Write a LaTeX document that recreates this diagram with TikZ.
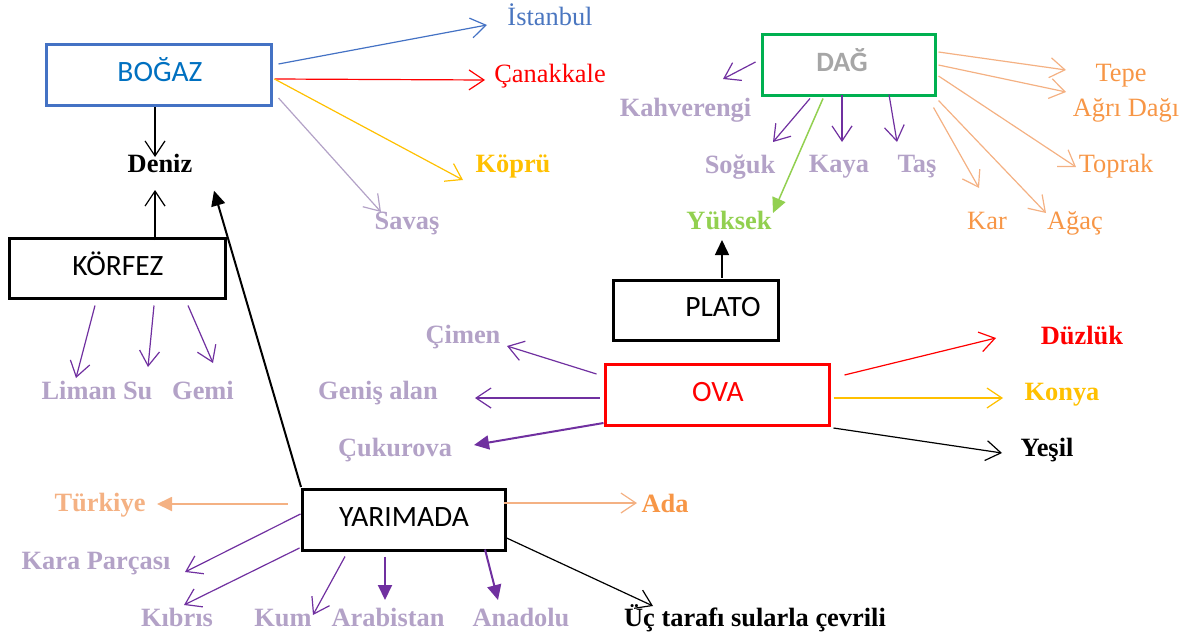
\documentclass[tikz,border=0pt]{standalone}
\usepackage{fontspec}
\setmainfont{Liberation Serif}
\newfontfamily\boxfont{Carlito}
\usetikzlibrary{arrows.meta,calc}
\definecolor{lav}{HTML}{B3A2C7}
\definecolor{purp}{HTML}{7030A0}
\definecolor{bbox}{HTML}{4472C4}
\definecolor{btext}{HTML}{0070C0}
\definecolor{ibl}{HTML}{4A76C0}
\definecolor{gold}{HTML}{FFC000}
\definecolor{gbox}{HTML}{00B050}
\definecolor{lgreen}{HTML}{92D050}
\definecolor{dgray}{HTML}{A6A6A6}
\definecolor{orng}{HTML}{F79646}
\definecolor{lorng}{HTML}{F4B183}
\begin{document}
\begin{tikzpicture}[x=1pt,y=-1pt,
  box/.style={draw=#1, line width=3pt, inner sep=0pt},
  boxlab/.style={font=\boxfont\fontsize{29.5}{33}\selectfont, anchor=base, inner sep=0pt},
  lbl/.style={font=\fontsize{26.4}{30}\selectfont\bfseries, anchor=base, inner sep=0pt},
  rlbl/.style={font=\fontsize{26.4}{30}\selectfont, anchor=base, inner sep=0pt},
  oarr/.style={-{Straight Barb[length=15pt,width=20pt]}, line width=1.2pt},
  farr/.style={-{Triangle[length=15pt,width=14pt]}, line width=2pt}]
\useasboundingbox (0,0) rectangle (1186,637);

% boxes
\node[box=bbox, minimum width=225pt, minimum height=61pt] (bogaz) at (159,75) {};
\node[boxlab, text=btext] (bogazT) at (160,81.7) {BOĞAZ};
\node[box=black, minimum width=216pt, minimum height=60pt] (korfez) at (117.5,268.5) {};
\node[boxlab] (korfezT) at (118,275) {KÖRFEZ};
\node[box=gbox, minimum width=173pt, minimum height=61pt] (dag) at (849,65) {};
\node[boxlab, text=dgray, font=\boxfont\bfseries\fontsize{28}{32}\selectfont] (dagT) at (842,71.7) {DAĞ};
\node[box=black, minimum width=165pt, minimum height=60pt] (plato) at (696,310.5) {};
\node[boxlab] (platoT) at (723,316.7) {PLATO};
\node[box=red, minimum width=224pt, minimum height=61pt] (ova) at (717.5,395) {};
\node[boxlab, text=red] (ovaT) at (718,401.7) {OVA};
\node[box=black, minimum width=203pt, minimum height=61pt] (yarimada) at (404,520) {};
\node[boxlab] (yarimadaT) at (404,526.7) {YARIMADA};

% labels
\node[lbl] (deniz) at (160,172.7) {Deniz};
\node[rlbl, text=ibl] (istanbul) at (550,25) {İstanbul};
\node[rlbl, text=red] (canakkale) at (550,82.3) {Çanakkale};
\node[lbl, text=gold] (kopru) at (513,172.7) {Köprü};
\node[lbl, text=lav] (savas) at (407,229) {Savaş};
\node[lbl, text=lav] (kahve) at (685.5,116.7) {Kahverengi};
\node[lbl, text=lav] (soguk) at (740,173) {Soğuk};
\node[lbl, text=lav] (kaya) at (839,172.7) {Kaya};
\node[lbl, text=lav] (tas) at (917,172.7) {Taş};
\node[lbl, text=lgreen] (yuksek) at (729,229) {Yüksek};
\node[rlbl, text=orng] (tepe) at (1121,81.7) {Tepe};
\node[rlbl, text=orng] (agri) at (1126,116.7) {Ağrı Dağı};
\node[rlbl, text=orng] (toprak) at (1116,172.7) {Toprak};
\node[rlbl, text=orng] (kar) at (987,229.3) {Kar};
\node[rlbl, text=orng] (agac) at (1075,229.3) {Ağaç};
\node[lbl, text=lav] (liman) at (97,399.3) {Liman Su};
\node[lbl, text=lav] (gemi) at (203,399.3) {Gemi};
\node[lbl, text=lav] (cimen) at (463,343.3) {Çimen};
\node[lbl, text=lav] (genis) at (378,399) {Geniş alan};
\node[lbl, text=lav] (cukurova) at (395,456.7) {Çukurova};
\node[lbl, text=red] (duzluk) at (1082,344) {Düzlük};
\node[lbl, text=gold] (konya) at (1062,400) {Konya};
\node[lbl] (yesil) at (1047,456.7) {Yeşil};
\node[lbl, text=lorng] (turkiye) at (100,511.7) {Türkiye};
\node[lbl, text=lav] (kara) at (96,569.3) {Kara Parçası};
\node[lbl, text=lav] (kibris) at (177,626.7) {Kıbrıs};
\node[lbl, text=lav] (kum) at (283,626.7) {Kum};
\node[lbl, text=lav] (arabistan) at (388,626.7) {Arabistan};
\node[lbl, text=orng] (ada) at (665,512.7) {Ada};
\node[lbl, text=lav] (anadolu) at (521,626.7) {Anadolu};
\node[lbl] (uc) at (755,626.7) {Üç tarafı sularla çevrili};

% BOĞAZ
\draw[oarr] ($(bogaz.south)+(-4,0)$) -- ($(deniz.base)+(-5,-15.7)$);
\draw[oarr, bbox] ($(bogaz.east)+(5.5,-11)$) -- ($(istanbul.base)+(-63,0)$);
\draw[oarr, red] ($(bogaz.east)+(1.5,4)$) -- ($(canakkale.base)+(-65,-2.3)$);
\draw[oarr, gold] ($(bogaz.east)+(1.5,4)$) -- ($(kopru.base)+(-50,7.3)$);
\draw[oarr, lav] ($(bogaz.east)+(5.5,23)$) -- ($(savas.base)+(-26,-17)$);

% KÖRFEZ
\draw[oarr] ($(korfez.north)+(37.5,3)$) -- ($(deniz.base)+(-5,17.3)$);
\draw[oarr, purp] ($(korfez.south)+(-22.5,5.5)$) -- ($(liman.base)+(-21,-21.3)$);
\draw[oarr, purp] ($(korfez.south)+(36.5,5.5)$) -- ($(liman.base)+(51,-32.3)$);
\draw[oarr, purp] ($(korfez.south)+(70.5,5.5)$) -- ($(gemi.base)+(10,-36.3)$);

% DAĞ
\draw[oarr, purp] ($(dag.west)+(-5.5,-3)$) -- ($(kahve.base)+(37.5,-37.7)$);
\draw[oarr, purp] ($(dag.south)+(-39,1.5)$) -- ($(soguk.base)+(33,-31)$);
\draw[farr, lgreen, line width=1.5pt] ($(dag.south)+(-26,1.5)$) -- ($(yuksek.base)+(44,-16)$);
\draw[oarr, purp] ($(dag.south)+(-7,-2.5)$) -- ($(kaya.base)+(3,-30.7)$);
\draw[oarr, purp] ($(dag.south)+(40,-2.5)$) -- ($(tas.base)+(-20,-30.7)$);
\draw[oarr, lorng] ($(dag.east)+(1.5,-13)$) -- ($(tepe.base)+(-55,-11.7)$);
\draw[oarr, lorng] ($(dag.east)+(1.5,0)$) -- ($(agri.base)+(-60,-24.7)$);
\draw[oarr, lorng] ($(dag.east)+(1.5,11)$) -- ($(toprak.base)+(-40,-5.7)$);
\draw[oarr, lorng] ($(dag.south east)+(-3.5,10.5)$) -- ($(kar.base)+(-8,-41.3)$);
\draw[oarr, lorng] ($(dag.south east)+(1.5,3.5)$) -- ($(agac.base)+(-29,-16.3)$);

% PLATO
\draw[farr, line width=1.5pt] ($(plato.north)+(26,-1.5)$) -- ($(yuksek.base)+(-7,11)$);

% OVA
\draw[oarr, purp] ($(ova.west)+(-7.5,-21)$) -- ($(cimen.base)+(44,2.7)$);
\draw[oarr, purp] ($(ova.west)+(-4.5,3)$) -- ($(genis.base)+(97,-1)$);
\draw[farr, purp] ($(ova.west)+(-0.5,28)$) -- ($(cukurova.base)+(79,-11.7)$);
\draw[oarr, red] ($(ova.east)+(13.5,-20)$) -- ($(duzluk.base)+(-86,-6)$);
\draw[oarr, gold] ($(ova.east)+(2.5,3)$) -- ($(konya.base)+(-59,-2)$);
\draw[oarr] ($(ova.east)+(2.5,33)$) -- ($(yesil.base)+(-45,-3.7)$);

% YARIMADA
\draw[farr] ($(yarimada.north west)+(0,-1)$) -- ($(deniz.base)+(54,18)$);
\draw[farr, lorng, line width=1.8pt] ($(yarimada.west)+(-13.5,-16)$) -- ($(turkiye.base)+(57,-7.7)$);
\draw[oarr, lorng] ($(yarimada.east)+(-3.5,-17)$) -- ($(ada.base)+(-28,-9.7)$);
\draw[oarr, purp] ($(yarimada.west)+(-0.5,-6)$) -- ($(kara.base)+(89,2.7)$);
\draw[oarr, purp] ($(yarimada.west)+(-1.5,28)$) -- ($(kibris.base)+(7,-21.7)$);
\draw[oarr, purp] ($(yarimada.south)+(-59,4.5)$) -- ($(kum.base)+(30,-11.7)$);
\draw[farr, purp] ($(yarimada.south)+(-19,4.5)$) -- ($(arabistan.base)+(-3,-26.7)$);
\draw[farr, purp] ($(yarimada.south)+(81,-2.5)$) -- ($(anadolu.base)+(-23,-26.7)$);
\draw[oarr] ($(yarimada.east)+(-2.5,17)$) -- ($(uc.base)+(-102,-20.7)$);
\end{tikzpicture}
\end{document}
